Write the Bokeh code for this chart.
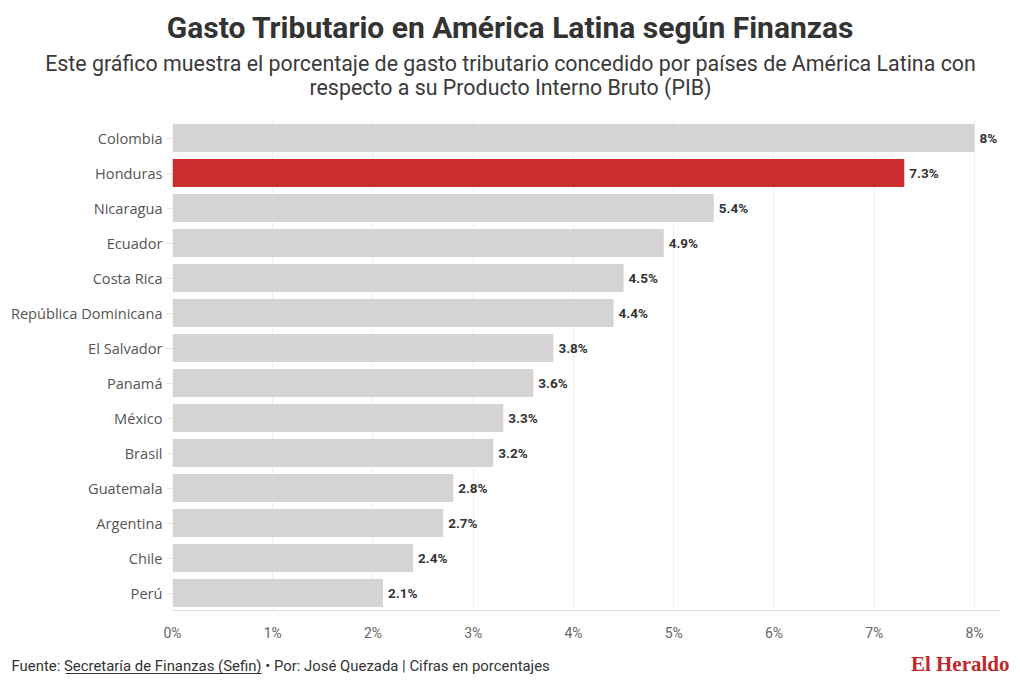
from bokeh.plotting import figure
from bokeh.layouts import column
from bokeh.models import ColumnDataSource, FixedTicker, PrintfTickFormatter, Range1d, LabelSet
from bokeh.core.properties import value
from bokeh.embed import file_html
from bokeh.resources import INLINE

countries = ["Colombia", "Honduras", "Nicaragua", "Ecuador", "Costa Rica", "República Dominicana",
             "El Salvador", "Panamá", "México", "Brasil", "Guatemala", "Argentina", "Chile", "Perú"]
values = [8.0, 7.3, 5.4, 4.9, 4.5, 4.4, 3.8, 3.6, 3.3, 3.2, 2.8, 2.7, 2.4, 2.1]
highlight = "Honduras"
ticks = [0, 1, 2, 3, 4, 5, 6, 7, 8]

title = "Gasto Tributario en América Latina según Finanzas"
subtitle_1 = "Este gráfico muestra el porcentaje de gasto tributario concedido por países de América Latina con"
subtitle_2 = "respecto a su Producto Interno Bruto (PIB)"
footer = "Fuente: Secretaría de Finanzas (Sefin) • Por: José Quezada | Cifras en porcentajes"
brand = "El Heraldo"

GREY = "#d5d3d4"
RED = "#cc2e30"
W = 1020


def blank(height):
    f = figure(width=W, height=height, x_range=Range1d(0, W), y_range=Range1d(height, 0),
               output_backend="svg", toolbar_location=None, x_axis_type=None, y_axis_type=None)
    f.min_border = 0
    f.frame_align = False
    f.outline_line_color = None
    f.xgrid.grid_line_color = None
    f.ygrid.grid_line_color = None
    return f

# header
h = blank(110)
h.text(x=[510], y=[27], text=[title], text_align="center", text_baseline="middle",
       text_font=value("Roboto"), text_font_style="bold", text_font_size="30px", text_color="#333333")
h.text(x=[510, 510], y=[63, 87], text=[subtitle_1, subtitle_2], text_align="center", text_baseline="middle",
       text_font=value("Roboto"), text_font_size="21.4px", text_color="#3a3a3a")

# main chart
colors = [RED if c == highlight else GREY for c in countries]
labels = [("%g%%" % v) for v in values]
src = ColumnDataSource(dict(country=countries, value=values, color=colors, label=labels))

p = figure(width=W, height=540, y_range=list(reversed(countries)), x_range=Range1d(0, 8.26),
           output_backend="svg", toolbar_location=None)
p.min_border_left = 172
p.min_border_right = 20
p.min_border_top = 10
p.min_border_bottom = 40
p.outline_line_color = None

p.hbar(y="country", right="value", left=0, height=0.8, color="color", source=src, line_color=None)

ls = LabelSet(x="value", y="country", text="label", source=src, x_offset=5, text_baseline="middle",
              text_font=value("Roboto"), text_font_style="bold", text_font_size="13.5px", text_color="#333333")
p.add_layout(ls)

p.xaxis.ticker = FixedTicker(ticks=ticks)
p.xaxis.formatter = PrintfTickFormatter(format="%d%%")
p.xaxis.axis_line_color = "#dddddd"
p.xaxis.major_tick_line_color = None
p.xaxis.minor_tick_line_color = None
p.xaxis.major_label_text_font = "Roboto"
p.xaxis.major_label_text_font_size = "14px"
p.xaxis.major_label_text_color = "#666666"
p.xaxis.major_label_standoff = 8

p.yaxis.axis_line_color = None
p.yaxis.major_tick_line_color = "#e6e6e6"
p.yaxis.major_tick_out = 6
p.yaxis.major_tick_in = 0
p.yaxis.major_label_text_font = "Open Sans"
p.yaxis.major_label_text_font_size = "14.6px"
p.yaxis.major_label_text_color = "#555555"
p.yaxis.major_label_standoff = 4

p.ygrid.grid_line_color = None
p.xgrid.grid_line_color = "#eeeeee"
p.xgrid.ticker = FixedTicker(ticks=ticks)

# footer
f = blank(37)
f.text(x=[11], y=[15], text=[footer], text_align="left", text_baseline="middle",
       text_font=value("Roboto"), text_font_size="14.9px", text_color="#333333")
f.segment(x0=[65], y0=[23], x1=[261], y1=[23], line_color="#333333", line_width=1)
f.text(x=[1009], y=[13], text=[brand], text_align="right", text_baseline="middle",
       text_font=value("Liberation Serif"), text_font_style="bold", text_font_size="21px", text_color="#c0272d")

layout = column(h, p, f, spacing=0)
open("out.html", "w").write(file_html(layout, INLINE))
